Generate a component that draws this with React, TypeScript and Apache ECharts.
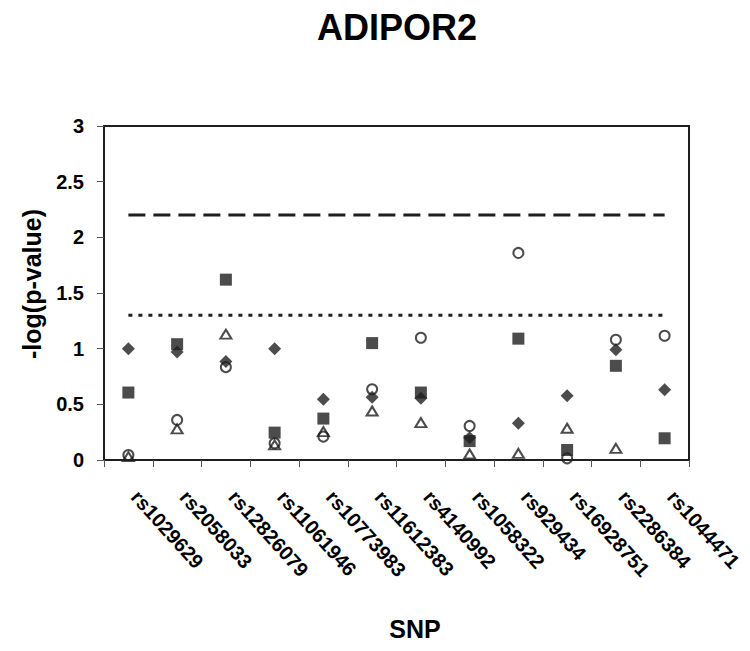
import React, { useEffect, useRef } from "react";
import * as echarts from "echarts";

const snps = [
  "rs1029629", "rs2058033", "rs12826079", "rs11061946", "rs10773983", "rs11612383",
  "rs4140992", "rs1058322", "rs929434", "rs16928751", "rs2286384", "rs1044471",
];
const diamondVals = [1.0, 0.97, 0.885, 1.0, 0.546, 0.564, 0.555, 0.2, 0.33, 0.576, 0.99, 0.63];
const squareVals = [0.606, 1.04, 1.62, 0.246, 0.372, 1.05, 0.606, 0.17, 1.09, 0.09, 0.846, 0.195];
const triangleVals = [0.03, 0.28, 1.13, 0.135, 0.255, 0.44, 0.336, 0.054, 0.06, 0.285, 0.105, null];
const circleVals = [0.045, 0.36, 0.834, 0.15, 0.21, 0.636, 1.098, 0.306, 1.86, 0.015, 1.08, 1.116];
const dashedThreshold = 2.2;
const dottedThreshold = 1.3;
const yTicks = { min: 0, max: 3, interval: 0.5 };

const INK = "#1f1f1f";
const FONT = "'Liberation Sans', Arial, sans-serif";

export default function App() {
  const ref = useRef<HTMLDivElement>(null);
  useEffect(() => {
    if (!ref.current) return;
    const chart = echarts.init(ref.current, null, { renderer: "svg" });
    const hollow = {
      color: "rgba(0,0,0,0)",
      borderColor: INK,
      borderWidth: 2,
    };
    chart.setOption({
      animation: false,
      backgroundColor: "#ffffff",
      textStyle: { fontFamily: FONT },
      grid: {
        left: 104,
        right: 61,
        top: 126,
        bottom: 191,
        show: true,
        borderColor: INK,
        borderWidth: 2,
        backgroundColor: "transparent",
      },
      graphic: [
        {
          type: "text",
          x: 397,
          y: 27,
          style: {
            text: "ADIPOR2",
            font: `bold 36px ${FONT}`,
            fill: "#000",
            textAlign: "center",
            textVerticalAlign: "middle",
          },
        },
        {
          type: "text",
          x: 32,
          y: 284,
          rotation: Math.PI / 2,
          style: {
            text: "-log(p-value)",
            font: `bold 25px ${FONT}`,
            fill: "#000",
            textAlign: "center",
            textVerticalAlign: "middle",
          },
        },
        {
          type: "text",
          x: 415,
          y: 629,
          style: {
            text: "SNP",
            font: `bold 25px ${FONT}`,
            fill: "#000",
            textAlign: "center",
            textVerticalAlign: "middle",
          },
        },
      ],
      xAxis: {
        type: "category",
        data: snps,
        boundaryGap: true,
        axisLine: { show: true, lineStyle: { color: INK, width: 2 } },
        axisTick: { show: true, length: 7, lineStyle: { color: "#555", width: 1 } },
        axisLabel: {
          rotate: -48,
          interval: 0,
          margin: 26,
          padding: [0, 0, 0, 10],
          color: "#000",
          fontWeight: "bold",
          fontSize: 20,
          fontFamily: FONT,
        },
        splitLine: { show: false },
      },
      yAxis: {
        type: "value",
        min: yTicks.min,
        max: yTicks.max,
        interval: yTicks.interval,
        axisLine: { show: true, lineStyle: { color: INK, width: 2 } },
        axisTick: { show: true, length: 7, lineStyle: { color: "#555", width: 1 } },
        axisLabel: {
          margin: 20,
          color: "#000",
          fontWeight: "bold",
          fontSize: 20,
          fontFamily: FONT,
        },
        splitLine: { show: false },
      },
      series: [
        {
          name: "threshold 2.2",
          type: "line",
          data: snps.map(() => dashedThreshold),
          symbol: "none",
          lineStyle: { color: INK, width: 3, type: [17, 8], cap: "butt" },
          z: 1,
        },
        {
          name: "threshold 1.3",
          type: "line",
          data: snps.map(() => dottedThreshold),
          symbol: "none",
          lineStyle: { color: INK, width: 3, type: [4, 6], cap: "butt" },
          z: 1,
        },
        {
          name: "circle",
          type: "scatter",
          data: circleVals,
          symbol: "circle",
          symbolSize: 10,
          itemStyle: hollow,
          z: 2,
        },
        {
          name: "triangle",
          type: "scatter",
          data: triangleVals,
          symbol: "triangle",
          symbolSize: [11, 9],
          itemStyle: hollow,
          z: 3,
        },
        {
          name: "diamond",
          type: "scatter",
          data: diamondVals,
          symbol: "diamond",
          symbolSize: [13, 13],
          itemStyle: { color: INK },
          z: 4,
        },
        {
          name: "square",
          type: "scatter",
          data: squareVals,
          symbol: "rect",
          symbolSize: 12,
          itemStyle: { color: INK },
          z: 5,
        },
      ],
    });
    return () => chart.dispose();
  }, []);
  return (
    <div
      ref={ref}
      style={{ position: "absolute", left: 0, top: 0, width: 750, height: 651 }}
    />
  );
}
